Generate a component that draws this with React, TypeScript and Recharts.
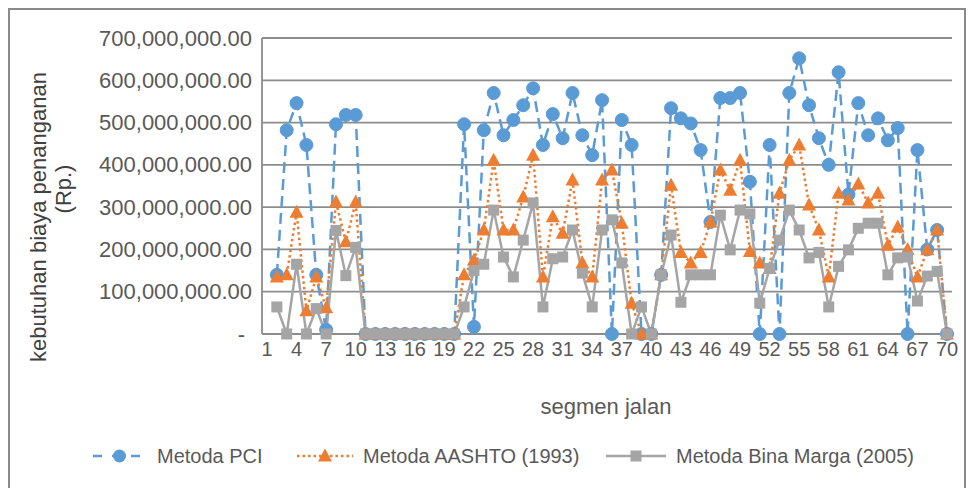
import React from "react";
import { LineChart, Line, XAxis, YAxis, CartesianGrid } from "recharts";

// segmen jalan 1..70 (segment 1 has no value in the source chart)
const SEGMENTS = [
  1, 2, 3, 4, 5, 6, 7, 8, 9, 10, 11, 12, 13, 14, 15, 16, 17, 18, 19, 20,
  21, 22, 23, 24, 25, 26, 27, 28, 29, 30, 31, 32, 33, 34, 35, 36, 37, 38, 39, 40,
  41, 42, 43, 44, 45, 46, 47, 48, 49, 50, 51, 52, 53, 54, 55, 56, 57, 58, 59, 60,
  61, 62, 63, 64, 65, 66, 67, 68, 69, 70,
];

// values in millions of Rp.
const PCI = [
  null, 140, 482, 546, 447, 140, 10, 496, 518, 518,
  0, 0, 0, 0, 0, 0, 0, 0, 0, 0,
  496, 17, 482, 570, 470, 506, 541, 581, 447, 520,
  463, 570, 470, 423, 553, 0, 506, 447, 0, 0,
  140, 534, 510, 498, 435, 265, 558, 558, 570, 360,
  0, 447, 0, 570, 652, 541, 463, 400, 619, 330,
  546, 470, 510, 458, 487, 0, 435, 200, 246, 0,
];

const AASHTO = [
  null, 135, 140, 288, 55, 135, 62, 312, 218, 312,
  0, 0, 0, 0, 0, 0, 0, 0, 0, 0,
  140, 175, 246, 411, 246, 246, 324, 423, 135, 277,
  238, 364, 168, 135, 364, 388, 262, 73, 0, 0,
  140, 352, 193, 168, 193, 265, 388, 340, 411, 195,
  168, 155, 333, 411, 447, 305, 246, 135, 333, 317,
  355, 310, 333, 210, 253, 200, 135, 199, 246, 0,
];

const BINA_MARGA = [
  null, 64, 0, 165, 0, 60, 0, 245, 138, 205,
  0, 0, 0, 0, 0, 0, 0, 0, 0, 0,
  64, 150, 165, 293, 182, 135, 222, 310, 64, 178,
  182, 246, 144, 64, 246, 270, 168, 0, 64, 0,
  140, 234, 75, 140, 140, 140, 281, 199, 293, 284,
  73, 155, 222, 293, 246, 180, 193, 64, 160, 199,
  250, 262, 262, 140, 180, 182, 78, 137, 148, 0,
];

const Y_TICKS = [0, 100, 200, 300, 400, 500, 600, 700];

const BLUE = "#5b9bd5";
const ORANGE = "#ed7d31";
const GRAY = "#a5a5a5";
const TEXT = "#595959";
const FONT = "'Liberation Sans', Arial, sans-serif";

const data = SEGMENTS.map((seg, i) => ({
  seg,
  pci: PCI[i],
  aashto: AASHTO[i],
  bina: BINA_MARGA[i],
}));

const fmt = (v: number) =>
  (v * 1e6).toLocaleString("en-US", {
    minimumFractionDigits: 2,
    maximumFractionDigits: 2,
  });

const YTick = (props: any) => {
  const { x, y, payload } = props;
  const zero = payload.value === 0;
  return (
    <text
      x={zero ? x - 7 : x}
      y={y}
      textAnchor="end"
      dominantBaseline="central"
      fill={TEXT}
      fontSize={22}
      fontFamily={FONT}
    >
      {zero ? "-" : fmt(payload.value)}
    </text>
  );
};

const CircleDot = (props: any) => {
  const { cx, cy, value } = props;
  if (value == null || cy == null) return null;
  return <circle key={props.key} cx={cx} cy={cy} r={6.5} fill={BLUE} stroke={BLUE} />;
};

const TriangleDot = (props: any) => {
  const { cx, cy, value } = props;
  if (value == null || cy == null) return null;
  return (
    <polygon
      key={props.key}
      points={`${cx},${cy - 7.5} ${cx - 7},${cy + 5.5} ${cx + 7},${cy + 5.5}`}
      fill={ORANGE}
    />
  );
};

const SquareDot = (props: any) => {
  const { cx, cy, value } = props;
  if (value == null || cy == null) return null;
  return <rect key={props.key} x={cx - 5.5} y={cy - 5.5} width={11} height={11} fill={GRAY} />;
};

const LegendItem = ({
  left,
  textLeft,
  label,
  kind,
}: {
  left: number;
  textLeft: number;
  label: string;
  kind: "pci" | "aashto" | "bina";
}) => {
  const w = textLeft - left - 10;
  const c = w / 2;
  return (
    <>
      <svg style={{ position: "absolute", left, top: 0 }} width={w} height={24}>
        {kind === "pci" && (
          <>
            <line x1={0} y1={12} x2={w} y2={12} stroke={BLUE} strokeWidth={2.5} strokeDasharray="9 10" strokeDashoffset={-1} />
            <circle cx={c} cy={12} r={6.5} fill={BLUE} />
          </>
        )}
        {kind === "aashto" && (
          <>
            <line x1={0} y1={12} x2={w} y2={12} stroke={ORANGE} strokeWidth={2.5} strokeDasharray="2.5 3" />
            <polygon points={`${c},${4.5} ${c - 7},${17.5} ${c + 7},${17.5}`} fill={ORANGE} />
          </>
        )}
        {kind === "bina" && (
          <>
            <line x1={0} y1={12} x2={w} y2={12} stroke={GRAY} strokeWidth={2.5} />
            <rect x={c - 5.5} y={6.5} width={11} height={11} fill={GRAY} />
          </>
        )}
      </svg>
      <div
        style={{
          position: "absolute",
          left: textLeft,
          top: 0,
          lineHeight: "24px",
          fontSize: 20,
          color: TEXT,
          whiteSpace: "nowrap",
        }}
      >
        {label}
      </div>
    </>
  );
};

export default function App() {
  return (
    <div
      style={{
        position: "fixed",
        left: 0,
        top: 0,
        width: 971,
        height: 488,
        background: "#fff",
        overflow: "hidden",
        fontFamily: FONT,
      }}
    >
      <div
        style={{
          position: "absolute",
          left: 8,
          top: 8,
          width: 954,
          height: 500,
          border: "2px solid #8a8a8a",
        }}
      />
      <div style={{ position: "absolute", left: 0, top: 0 }}>
        <LineChart
          width={971}
          height={488}
          data={data}
          margin={{ top: 38, right: 19, bottom: 114, left: 0 }}
        >
          <CartesianGrid vertical={false} stroke="#8c8c8c" strokeWidth={1.8} />
          <XAxis
            dataKey="seg"
            interval={2}
            tickLine={false}
            axisLine={{ stroke: "#8c8c8c", strokeWidth: 1.8 }}
            padding={{ left: 5, right: 5 }}
            height={40}
            tick={{ fill: TEXT, fontSize: 20, fontFamily: FONT }}
          />
          <YAxis
            width={262}
            domain={[0, 700]}
            ticks={Y_TICKS}
            interval={0}
            tickLine={false}
            tickMargin={4}
            axisLine={{ stroke: "#8c8c8c", strokeWidth: 1.8 }}
            tick={<YTick />}
          />
          <Line
            dataKey="pci"
            stroke={BLUE}
            strokeWidth={2.5}
            strokeDasharray="11 6"
            dot={<CircleDot />}
            activeDot={false}
            isAnimationActive={false}
          />
          <Line
            dataKey="aashto"
            stroke={ORANGE}
            strokeWidth={2.5}
            strokeDasharray="2.5 3"
            dot={<TriangleDot />}
            activeDot={false}
            isAnimationActive={false}
          />
          <Line
            dataKey="bina"
            stroke={GRAY}
            strokeWidth={2.5}
            dot={<SquareDot />}
            activeDot={false}
            isAnimationActive={false}
          />
        </LineChart>
      </div>
      <svg
        style={{ position: "absolute", left: 0, top: 0, pointerEvents: "none" }}
        width={971}
        height={488}
      >
        <text
          transform="translate(38,217) rotate(-90)"
          textAnchor="middle"
          dominantBaseline="central"
          fontSize={22}
          fill="#404040"
          fontFamily={FONT}
        >
          kebutuhan biaya penanganan
        </text>
        <text
          transform="translate(63,189) rotate(-90)"
          textAnchor="middle"
          dominantBaseline="central"
          fontSize={22}
          fill="#404040"
          fontFamily={FONT}
        >
          (Rp.)
        </text>
        <text
          x={606}
          y={406}
          textAnchor="middle"
          dominantBaseline="central"
          fontSize={22}
          fill={TEXT}
          fontFamily={FONT}
        >
          segmen jalan
        </text>
      </svg>
      <div style={{ position: "absolute", left: 0, top: 444, width: 971, height: 24 }}>
        <LegendItem left={92} textLeft={157} label="Metoda PCI" kind="pci" />
        <LegendItem left={297} textLeft={363} label="Metoda AASHTO (1993)" kind="aashto" />
        <LegendItem left={606} textLeft={676} label="Metoda Bina Marga (2005)" kind="bina" />
      </div>
    </div>
  );
}
